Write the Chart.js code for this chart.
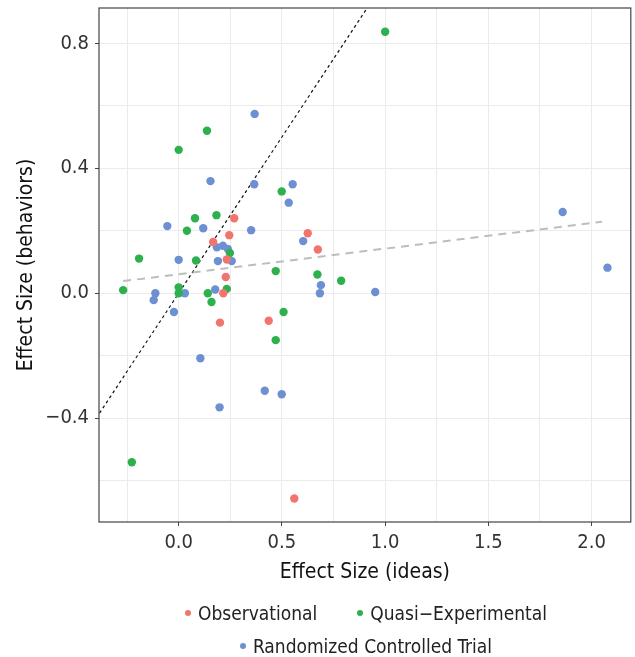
<!DOCTYPE html>
<html>
<head>
<meta charset="utf-8">
<script src="https://cdn.jsdelivr.net/npm/chart.js@4/dist/chart.umd.min.js"></script>
<style>
  body { margin: 0; background: #fff; }
  #wrap { position: relative; width: 635px; height: 657px; }
  #legend {
    position: absolute; left: 99px; width: 534px; top: 596px;
    font-family: 'DejaVu Sans Condensed', 'Liberation Sans', sans-serif;
    font-size: 19px; color: #222;
  }
  .row { display: flex; justify-content: center; height: 33px; align-items: center; }
  .item { display: flex; align-items: center; margin: 0 20px; }
  .dot { width: 6px; height: 6px; border-radius: 50%; margin-right: 7px; }
</style>
</head>
<body>
<div id="wrap">
  <canvas id="chart" width="635" height="657"></canvas>
  <div id="legend"></div>
</div>
<script>
// ===== DATA =====
const obsX = [0.269, 0.245, 0.625, 0.674, 0.167, 0.233, 0.228, 0.216, 0.200, 0.436, 0.560];
const obsY = [0.240, 0.186, 0.192, 0.140, 0.164, 0.108, 0.052, 0.000, -0.094, -0.088, -0.657];

const quasiX = [1.000, 0.137, 0.000, 0.499, 0.079, 0.183, 0.040, 0.248, -0.192, 0.084, 0.470,
                0.672, 0.787, -0.269, 0.000, 0.000, 0.141, 0.159, 0.233, 0.508, 0.470, -0.227];
const quasiY = [0.837, 0.520, 0.459, 0.326, 0.240, 0.250, 0.200, 0.129, 0.111, 0.105, 0.071,
                0.060, 0.040, 0.010, 0.019, 0.000, 0.000, -0.028, 0.014, -0.060, -0.150, -0.541];

const rctX = [0.368, 0.154, 0.366, 0.552, 0.533, -0.055, 0.119, 0.351, 0.603, 0.185, 0.214,
              0.238, 0.000, 0.190, 0.257, 0.689, 0.684, 0.952, -0.113, -0.121, 0.030, -0.023,
              0.177, 0.105, 0.417, 0.499, 0.198, 1.860, 2.077];
const rctY = [0.574, 0.359, 0.349, 0.349, 0.290, 0.215, 0.208, 0.202, 0.167, 0.147, 0.152,
              0.142, 0.107, 0.103, 0.103, 0.026, 0.000, 0.004, 0.000, -0.022, 0.000, -0.060,
              0.012, -0.208, -0.312, -0.323, -0.365, 0.260, 0.082];

// regression fit (grey dashed) and identity line (black dotted)
const fitX = [-0.269, 2.051];
const fitY = [0.039, 0.229];
const refX = [-0.8, 1.2];
const refY = [-0.8, 1.2];

// axes
const xRange = [-0.386, 2.19];
const yRange = [-0.732, 0.913];
const xGrid = [-0.25, 0, 0.25, 0.5, 0.75, 1, 1.25, 1.5, 1.75, 2];
const xLabels = [0, 0.5, 1, 1.5, 2];
const yGrid = [-0.6, -0.4, -0.2, 0, 0.2, 0.4, 0.6, 0.8];
const yLabels = [-0.4, 0, 0.4, 0.8];

const groups = ['Observational', 'Quasi\u2212Experimental', 'Randomized Controlled Trial'];
const colors = ['#F2756D', '#2DB14C', '#6D90D2'];

const FONT = "'DejaVu Sans Condensed', 'Liberation Sans', sans-serif";

function pts(xs, ys) {
  return xs.map((x, i) => ({ x, y: ys[i] }));
}

function isLabel(list, v) {
  return list.some(l => Math.abs(l - v) < 1e-9);
}

function fmt(v) {
  return v.toFixed(1).replace('-', '\u2212');
}

const boxPlugin = {
  id: 'panelBox',
  afterDraw(chart) {
    const { ctx, chartArea: a } = chart;
    ctx.save();
    ctx.strokeStyle = '#444';
    ctx.lineWidth = 1.2;
    ctx.strokeRect(a.left, a.top, a.right - a.left, a.bottom - a.top);
    ctx.restore();
  }
};

const pointSets = [pts(obsX, obsY), pts(quasiX, quasiY), pts(rctX, rctY)];

const chart = new Chart(document.getElementById('chart'), {
  type: 'scatter',
  data: {
    datasets: [
      ...pointSets.map((d, i) => ({
        label: groups[i],
        data: d,
        backgroundColor: colors[i],
        borderColor: colors[i],
        borderWidth: 0,
        pointRadius: 4.2,
        order: 1
      })),
      {
        type: 'line',
        label: 'fit',
        data: pts(fitX, fitY),
        borderColor: '#BDBDBD',
        borderWidth: 2,
        borderDash: [8, 6],
        pointRadius: 0,
        fill: false,
        order: 2
      },
      {
        type: 'line',
        label: 'identity',
        data: pts(refX, refY),
        borderColor: '#111',
        borderWidth: 1.2,
        borderDash: [3, 3],
        pointRadius: 0,
        fill: false,
        order: 2
      }
    ]
  },
  options: {
    responsive: false,
    animation: false,
    devicePixelRatio: 1,
    layout: { padding: { top: 8, right: 2, bottom: 72, left: 0 } },
    plugins: {
      legend: { display: false },
      tooltip: { enabled: false }
    },
    scales: {
      x: {
        type: 'linear',
        min: xRange[0],
        max: xRange[1],
        afterBuildTicks: s => { s.ticks = xGrid.map(v => ({ value: v })); },
        afterFit: s => { s.height = 63; s.paddingLeft = 0; s.paddingRight = 0; },
        border: { display: false },
        grid: {
          color: '#EBEBEB',
          lineWidth: 1,
          tickLength: 4,
          tickColor: c => isLabel(xLabels, c.tick.value) ? '#444' : 'rgba(0,0,0,0)'
        },
        ticks: {
          padding: 5,
          maxRotation: 0,
          autoSkip: false,
          color: '#333',
          font: { family: FONT, size: 20 },
          callback: v => isLabel(xLabels, v) ? fmt(v) : ''
        },
        title: {
          display: true,
          text: 'Effect Size (ideas)',
          color: '#111',
          font: { family: FONT, size: 21 },
          padding: { top: 0, bottom: 0 }
        }
      },
      y: {
        type: 'linear',
        min: yRange[0],
        max: yRange[1],
        afterBuildTicks: s => { s.ticks = yGrid.map(v => ({ value: v })); },
        afterFit: s => { s.width = 99; s.paddingTop = 0; s.paddingBottom = 0; },
        border: { display: false },
        grid: {
          color: '#EBEBEB',
          lineWidth: 1,
          tickLength: 4,
          tickColor: c => isLabel(yLabels, c.tick.value) ? '#444' : 'rgba(0,0,0,0)'
        },
        ticks: {
          padding: 6,
          autoSkip: false,
          color: '#333',
          font: { family: FONT, size: 20 },
          callback: v => isLabel(yLabels, v) ? fmt(v) : ''
        },
        title: {
          display: true,
          text: 'Effect Size (behaviors)',
          color: '#111',
          font: { family: FONT, size: 21 },
          padding: { top: 14, bottom: 0 }
        }
      }
    }
  },
  plugins: [boxPlugin]
});

// HTML legend built from the chart's own datasets
function buildLegend() {
  const el = document.getElementById('legend');
  const rows = [[0, 1], [2]];
  rows.forEach(r => {
    const row = document.createElement('div');
    row.className = 'row';
    r.forEach(i => {
      const ds = chart.data.datasets[i];
      const item = document.createElement('div');
      item.className = 'item';
      item.innerHTML = `<span class="dot" style="background:${ds.backgroundColor}"></span><span>${ds.label}</span>`;
      row.appendChild(item);
    });
    el.appendChild(row);
  });
}
buildLegend();
</script>
</body>
</html>
